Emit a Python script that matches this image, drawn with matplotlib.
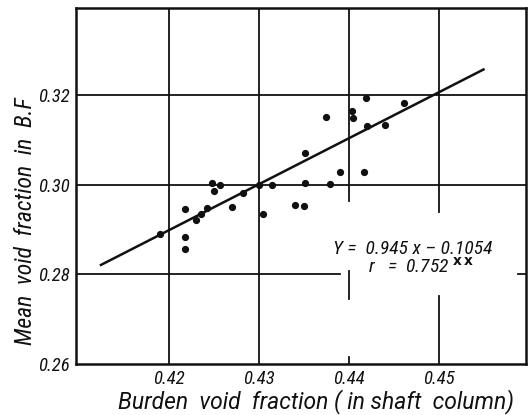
import matplotlib
matplotlib.use("Agg")
import matplotlib.pyplot as plt

# points
burden = [0.4190, 0.4218, 0.4218, 0.4218, 0.4230, 0.4235, 0.4242, 0.4248, 0.4250,
          0.4257, 0.4270, 0.4282, 0.4300, 0.4304, 0.4314, 0.4340, 0.4350, 0.4351,
          0.4351, 0.4374, 0.4379, 0.4390, 0.4403, 0.4405, 0.4417, 0.4419, 0.4420,
          0.4440, 0.4461]
mean_void = [0.2891, 0.2947, 0.2884, 0.2856, 0.2922, 0.2936, 0.2948, 0.3004, 0.2987,
             0.2999, 0.2951, 0.2981, 0.2999, 0.2934, 0.2999, 0.2954, 0.2952, 0.3004,
             0.3072, 0.3152, 0.3002, 0.3028, 0.3166, 0.3149, 0.3028, 0.3193, 0.3132,
             0.3134, 0.3182]

# regression line as drawn
fit_x = [0.4123, 0.4551]
fit_y = [0.2820, 0.3259]

xticks = [0.42, 0.43, 0.44, 0.45]
yticks = [0.26, 0.28, 0.30, 0.32]
xlabels = ["0.42", "0.43", "0.44", "0.45"]
ylabels = ["0.26", "0.28", "0.30", "0.32"]

narrow = ["Roboto Condensed", "DejaVu Sans"]
wide = ["Roboto", "DejaVu Sans"]
ink = "#111111"

fig = plt.figure(figsize=(5.29, 4.15), dpi=100)
ax = fig.add_axes([0.1446, 0.1229, 0.9943 - 0.1446, 0.9807 - 0.1229])
ax.set_xlim(0.4097, 0.4597)
ax.set_ylim(0.26, 0.3395)

# grid lines (broken in places like the original drawing)
ax.axvline(0.42, color=ink, lw=1.3)
ax.axvline(0.43, color=ink, lw=1.3)
ax.plot([0.44, 0.44], [0.2963, 0.3395], color=ink, lw=1.3)
ax.plot([0.44, 0.44], [0.2745, 0.2807], color=ink, lw=1.3)
ax.plot([0.44, 0.44], [0.26, 0.2616], color=ink, lw=1.3)
ax.plot([0.45, 0.45], [0.2939, 0.3395], color=ink, lw=1.3)
ax.plot([0.45, 0.45], [0.26, 0.2751], color=ink, lw=1.3)
ax.axhline(0.30, color=ink, lw=1.3)
ax.axhline(0.32, color=ink, lw=1.3)
ax.plot([0.4097, 0.4390], [0.28, 0.28], color=ink, lw=1.3)
ax.plot([0.4588, 0.4597], [0.28, 0.28], color=ink, lw=1.3)

ax.plot(fit_x, fit_y, color=ink, lw=1.8, solid_capstyle="butt")
ax.plot(burden, mean_void, "o", color=ink, ms=4.2, mec=ink)

ax.set_xticks(xticks)
ax.set_xticklabels(xlabels, family=narrow, style="italic", fontsize=13.5)
ax.set_yticks(yticks)
ax.set_yticklabels(ylabels, family=narrow, style="italic", fontsize=13.5)
ax.tick_params(axis="both", length=0, colors=ink)
ax.tick_params(axis="x", pad=4)
ax.tick_params(axis="y", pad=5)
for sp in ax.spines.values():
    sp.set_linewidth(1.8)
    sp.set_color(ink)

fig.text(316 / 529, 1 - 402 / 415, "Burden  void  fraction ( in shaft  column)",
         family=wide, style="italic", fontsize=16.5, ha="center", va="center", color=ink)
fig.text(26 / 529, 1 - 221 / 415, "Mean  void  fraction  in  B.F",
         family=narrow, style="italic", fontsize=17, rotation=90,
         ha="center", va="center", color=ink)

eq = "Y =  0.945 x \u2013 0.1054\n        r   =  0.752 $^{\\mathbf{x\\,x}}$"
ax.text(0.4382, 0.2836, eq, family=narrow, style="italic", fontsize=14,
        color=ink, ha="left", va="center", linespacing=0.9)

fig.savefig("out.png", dpi=100)
